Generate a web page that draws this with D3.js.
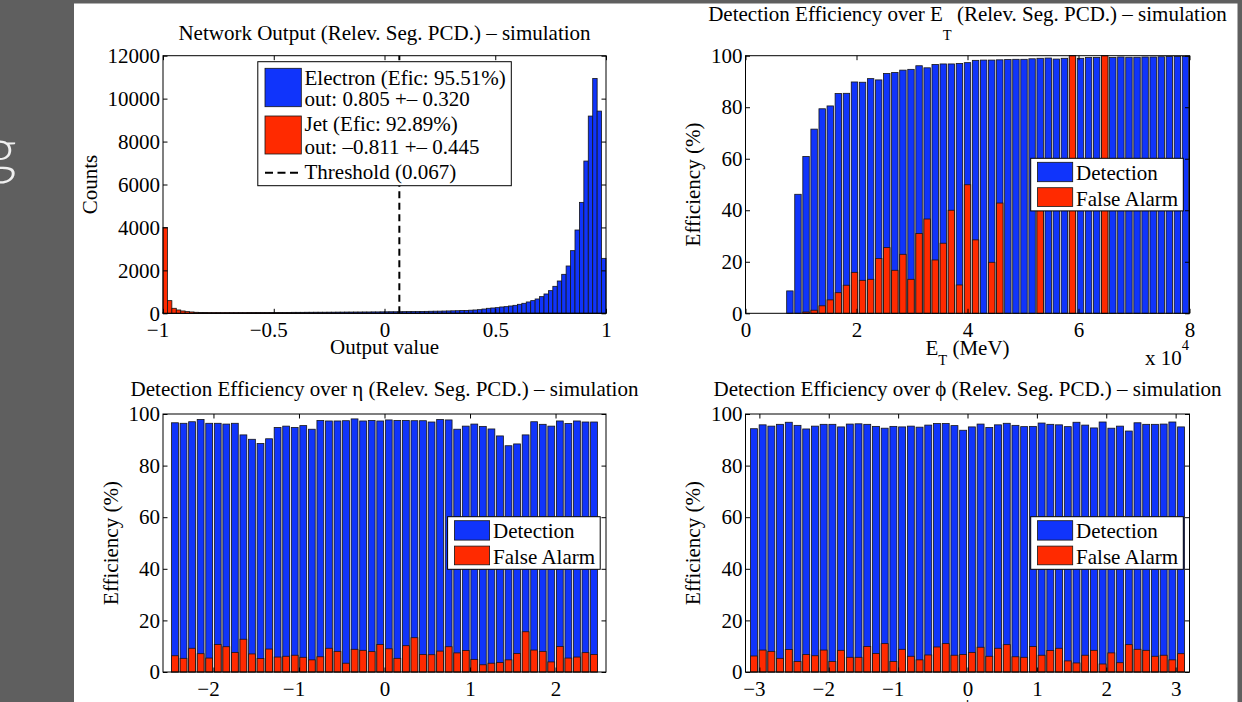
<!DOCTYPE html>
<html>
<head>
<meta charset="utf-8">
<script src="https://cdn.jsdelivr.net/npm/d3@7"></script>
<style>
  body { margin: 0; background: #5f5f5f; }
  svg { display: block; }
</style>
</head>
<body>
<div id="chart"></div>
<script>
// page size and styles
var width = 1242
var height = 702
var serif = "'Liberation Serif', 'Times New Roman', serif"
var fontSize = 21
var blue = "#1034fb"
var red = "#ff2a00"

// ---- data ----
// network output histogram, 100 bins over [-1, 1]
var outRange = [-1, 1]
var electronCounts = [40, 20, 15, 15, 15, 18, 20, 20, 22, 22,
  25, 25, 28, 28, 30, 30, 30, 32, 32, 35,
  35, 35, 38, 38, 40, 40, 40, 42, 42, 45,
  45, 45, 48, 48, 50, 50, 50, 52, 52, 55,
  55, 58, 58, 60, 60, 62, 62, 65, 65, 68,
  70, 72, 72, 75, 78, 80, 82, 85, 88, 90,
  95, 98, 100, 105, 110, 115, 120, 128, 135, 145,
  155, 170, 200, 233, 248, 264, 295, 310, 341, 372,
  419, 466, 528, 590, 667, 776, 900, 1055, 1257, 1505,
  1816, 2204, 2918, 3880, 5168, 7093, 9188, 10940, 9420, 2560]
var jetCounts = [4000, 590, 233, 155, 109, 78, 62, 47, 40, 35,
  30, 28, 26, 25, 24, 23, 22, 21, 20, 20,
  19, 18, 18, 17, 17, 16, 16, 15, 15, 15,
  14, 14, 14, 13, 13, 13, 12, 12, 12, 12,
  11, 11, 11, 11, 10, 10, 10, 10, 10, 10,
  9, 9, 9, 9, 9, 8, 8, 8, 8, 8,
  7, 7, 7, 7, 7, 6, 6, 6, 6, 6,
  5, 5, 5, 5, 5, 5, 4, 4, 4, 4,
  4, 4, 4, 3, 3, 3, 3, 3, 3, 3,
  3, 3, 3, 2, 2, 2, 2, 2, 2, 2]
var threshold = 0.067
var outLegend = ["Electron (Efic: 95.51%)", "out: 0.805 +\u2013 0.320",
                 "Jet (Efic: 92.89%)", "out: \u20130.811 +\u2013 0.445",
                 "Threshold (0.067)"]

// efficiency over E_T, 55 bins over [0, 8] x 10^4 MeV
var etRange = [0, 8]
var etDetection = [0, 0, 0, 0, 0, 8.7, 46.2, 60.9, 71.5, 79.4,
  80.5, 85.3, 85.4, 89.8, 89.7, 91.1, 90.6, 93.1, 93.5, 94.4,
  94.7, 96.1, 95.3, 96.6, 96.8, 96.8, 97.0, 97.3, 98.2, 98.3,
  98.3, 98.4, 98.5, 98.6, 98.6, 98.8, 99.0, 99.1, 98.7, 99.0,
  99.2, 99.0, 99.3, 99.3, 99.4, 99.3, 99.5, 99.4, 99.4, 99.5,
  99.5, 99.6, 99.7, 99.7, 99.7]
var etFalseAlarm = [0, 0, 0, 0, 0, 0, 0, 0.5, 1.2, 2.9,
  5.2, 8.0, 10.9, 15.9, 12.8, 13.2, 21.3, 25.5, 16.7, 22.9,
  13.2, 31.0, 36.6, 20.7, 27.2, 40.0, 11.0, 49.9, 28.5, 0,
  19.8, 42.8, 0, 0, 0, 0, 50, 0, 0, 0,
  100, 0, 0, 0, 100, 0, 0, 0, 0, 0,
  0, 0, 0, 0, 0]

// efficiency over eta, 50 bins over [-2.5, 2.5]
var etaRange = [-2.5, 2.5]
var etaDetection = [96.6, 96.4, 97.0, 97.9, 96.4, 96.4, 96.1, 96.4, 91.9, 90.2,
  88.6, 90.4, 94.8, 95.3, 94.8, 95.5, 94.1, 97.5, 97.3, 97.3,
  97.4, 98.1, 97.3, 97.5, 97.3, 97.7, 97.5, 97.5, 97.4, 97.4,
  96.9, 97.9, 97.7, 94.1, 95.3, 96.1, 95.2, 94.2, 91.5, 87.7,
  88.4, 91.9, 97.0, 96.0, 95.3, 97.3, 96.3, 97.3, 96.9, 96.9]
var etaFalseAlarm = [6.3, 5.3, 9.2, 7.1, 5.4, 10.7, 9.8, 7.6, 12.7, 7.0,
  5.2, 8.9, 5.8, 6.1, 6.5, 5.7, 4.7, 5.9, 9.2, 8.0,
  3.4, 8.8, 8.4, 7.9, 10.7, 9.0, 5.3, 10.2, 13.3, 6.8,
  6.7, 8.1, 9.8, 7.4, 8.3, 4.9, 2.8, 3.4, 3.7, 4.7,
  7.2, 15.6, 8.5, 8.0, 3.9, 9.9, 5.4, 5.8, 7.5, 6.8]

// efficiency over phi, 50 bins over [-pi, pi]
var phiRange = [-Math.PI, Math.PI]
var phiDetection = [94.3, 95.8, 95.3, 96.0, 96.8, 95.6, 94.2, 95.3, 96.0, 96.0,
  95.0, 96.1, 96.2, 96.0, 95.2, 94.5, 95.2, 95.0, 95.3, 94.9,
  95.7, 96.3, 96.3, 95.5, 93.7, 95.0, 96.1, 94.8, 95.8, 96.4,
  95.6, 95.1, 95.2, 96.5, 96.0, 95.8, 95.1, 96.8, 95.7, 94.6,
  96.9, 94.5, 95.3, 93.4, 96.6, 96.0, 96.0, 96.1, 96.9, 95.0]
var phiFalseAlarm = [6.2, 8.5, 8.0, 5.3, 8.7, 4.1, 6.8, 6.3, 8.5, 4.1,
  8.4, 5.7, 5.7, 9.9, 7.2, 11.0, 4.1, 8.8, 6.1, 4.7,
  6.6, 9.7, 11.0, 6.5, 6.8, 7.6, 9.6, 6.1, 9.2, 10.6,
  5.9, 5.7, 9.9, 6.5, 8.3, 9.2, 4.3, 3.5, 6.5, 8.4,
  3.1, 7.4, 3.6, 10.6, 8.8, 8.4, 6.1, 6.5, 4.7, 7.1]

// tick values
var outTicks = [-1, -0.5, 0, 0.5, 1]
var countTicks = [0, 2000, 4000, 6000, 8000, 10000, 12000]
var effTicks = [0, 20, 40, 60, 80, 100]
var etTicks = [0, 2, 4, 6, 8]
var etaTicks = [-2, -1, 0, 1, 2]
var phiTicks = [-3, -2, -1, 0, 1, 2, 3]

// ---- page ----
var svg = d3.select("#chart")
  .append("svg")
  .attr("width", width)
  .attr("height", height)

svg.append("rect").attr("width", width).attr("height", height).attr("fill", "#5f5f5f")
// tail of the slide text on the left
svg.append("text")
  .attr("x", 17).attr("y", 172)
  .attr("text-anchor", "end")
  .attr("font-family", "Lato, 'DejaVu Sans', sans-serif")
  .attr("font-weight", 300)
  .attr("font-size", 64)
  .attr("fill", "#efefef")
  .text("g")
svg.append("rect")
  .attr("x", 74).attr("y", 3.5)
  .attr("width", 1163.5).attr("height", height)
  .attr("fill", "#fff")

// axes boxes
function make_panel(box, xDomain, yDomain) {
  return {
    box: box,
    x: d3.scaleLinear().domain(xDomain).range([box.left, box.right]),
    y: d3.scaleLinear().domain(yDomain).range([box.bottom, box.top]),
    g: svg.append("g")
  }
}

var p1 = make_panel({left: 163, right: 606, top: 55.7, bottom: 313.3}, [-1, 1], [0, 12000])
var p2 = make_panel({left: 745.5, right: 1189.5, top: 55.7, bottom: 313.3}, [0, 8], [0, 100])
var p3 = make_panel({left: 163, right: 606, top: 414, bottom: 672}, [-2.59, 2.59], [0, 100])
var p4 = make_panel({left: 745.5, right: 1189.5, top: 414, bottom: 672}, [-3.2, 3.2], [0, 100])

function add_text(g, x, y, str, anchor, rotate) {
  var t = g.append("text")
    .attr("x", x).attr("y", y)
    .attr("font-family", serif)
    .attr("font-size", fontSize)
    .attr("fill", "#000")
    .attr("text-anchor", anchor || "start")
    .text(str)
  if (rotate) t.attr("transform", "rotate(-90," + x + "," + y + ")")
  return t
}

// bars centred in equal bins across a range
function draw_bars(p, range, values, fill, widthRatio) {
  var step = (range[1] - range[0]) / values.length
  var w = step * widthRatio
  p.g.append("g")
    .selectAll("rect")
    .data(values)
    .join("rect")
      .attr("x", function(d, i) { return p.x(range[0] + step * (i + 0.5) - w / 2) })
      .attr("y", function(d) { return p.y(d) })
      .attr("width", function(d, i) { return p.x(range[0] + step * (i + 0.5) + w / 2) - p.x(range[0] + step * (i + 0.5) - w / 2) })
      .attr("height", function(d) { return p.y(0) - p.y(d) })
      .attr("fill", fill)
      .attr("stroke", "#161616")
      .attr("stroke-width", 0.8)
}

function minus_fmt(d) { return String(d).replace("-", "\u2212") }

function style_axis(a) {
  a.select(".domain").remove()
  a.attr("font-family", serif).attr("font-size", fontSize)
  a.selectAll("text").attr("fill", "#000")
  a.selectAll("line").attr("stroke", "#000")
}

function draw_frame(p, xTicks, yTicks, yFmt) {
  var b = p.box
  var tl = -4.5
  p.g.append("g").attr("transform", "translate(0," + b.bottom + ")")
    .call(d3.axisBottom(p.x).tickValues(xTicks).tickSizeInner(tl).tickSizeOuter(0).tickPadding(9).tickFormat(minus_fmt))
    .call(style_axis)
    .selectAll("text").attr("dx", function(d) { return d < 0 ? -5.5 : 0 })
  p.g.append("g").attr("transform", "translate(0," + b.top + ")")
    .call(d3.axisTop(p.x).tickValues(xTicks).tickSizeInner(tl).tickSizeOuter(0).tickFormat(""))
    .call(style_axis)
  p.g.append("g").attr("transform", "translate(" + b.left + ",0)")
    .call(d3.axisLeft(p.y).tickValues(yTicks).tickSizeInner(tl).tickSizeOuter(0).tickPadding(3).tickFormat(yFmt))
    .call(style_axis)
  p.g.append("g").attr("transform", "translate(" + b.right + ",0)")
    .call(d3.axisRight(p.y).tickValues(yTicks).tickSizeInner(tl).tickSizeOuter(0).tickFormat(""))
    .call(style_axis)
  p.g.append("rect")
    .attr("x", b.left).attr("y", b.top)
    .attr("width", b.right - b.left).attr("height", b.bottom - b.top)
    .attr("fill", "none").attr("stroke", "#000").attr("stroke-width", 1)
}

// two-entry legend used by the efficiency plots
function draw_eff_legend(p, x, y) {
  var g = p.g.append("g").attr("transform", "translate(" + x + "," + y + ")")
  g.append("rect").attr("width", 152.6).attr("height", 52.6)
    .attr("fill", "#fff").attr("stroke", "#000")
  g.append("rect").attr("x", 6.8).attr("y", 4).attr("width", 35.2).attr("height", 19.4)
    .attr("fill", blue).attr("stroke", "#161616").attr("stroke-width", 0.8)
  g.append("rect").attr("x", 6.8).attr("y", 29.4).attr("width", 35.2).attr("height", 18.7)
    .attr("fill", red).attr("stroke", "#161616").attr("stroke-width", 0.8)
  add_text(g, 45.4, 21.6, "Detection")
  add_text(g, 45.4, 47.3, "False Alarm")
}

// ---- panel 1: network output ----
draw_bars(p1, outRange, electronCounts, blue, 1)
draw_bars(p1, outRange, jetCounts, red, 1)
p1.g.append("line")
  .attr("x1", p1.x(threshold)).attr("x2", p1.x(threshold))
  .attr("y1", p1.y(0)).attr("y2", p1.y(12000))
  .attr("stroke", "#000").attr("stroke-width", 2)
  .attr("stroke-dasharray", "7,4.5")
draw_frame(p1, outTicks, countTicks, d3.format("d"))

var lg = p1.g.append("g").attr("transform", "translate(257.8,61.7)")
lg.append("rect").attr("width", 253.5).attr("height", 124)
  .attr("fill", "#fff").attr("stroke", "#000")
lg.append("rect").attr("x", 7.2).attr("y", 6.6).attr("width", 36.3).attr("height", 38.4)
  .attr("fill", blue).attr("stroke", "#161616").attr("stroke-width", 0.8)
lg.append("rect").attr("x", 7.2).attr("y", 54.3).attr("width", 36.3).attr("height", 38)
  .attr("fill", red).attr("stroke", "#161616").attr("stroke-width", 0.8)
lg.append("line").attr("x1", 7.2).attr("x2", 43.5).attr("y1", 111).attr("y2", 111)
  .attr("stroke", "#000").attr("stroke-width", 2).attr("stroke-dasharray", "8,4.5")
var outBaselines = [23.2, 44.8, 69.5, 92.3, 117.3]
outLegend.forEach(function(s, i) { add_text(lg, 46.7, outBaselines[i], s) })

add_text(p1.g, 384.5, 39.5, "Network Output (Relev. Seg. PCD.) \u2013 simulation", "middle")
add_text(p1.g, 384.5, 354, "Output value", "middle")
add_text(p1.g, 96.5, 184.5, "Counts", "middle", true)

// ---- panel 2: efficiency over E_T ----
draw_bars(p2, etRange, etDetection, blue, 0.8)
draw_bars(p2, etRange, etFalseAlarm, red, 0.8)
draw_frame(p2, etTicks, effTicks, d3.format("d"))
draw_eff_legend(p2, 1030.7, 158.3)

var t2 = add_text(p2.g, 967.5, 20.7, "Detection Efficiency over E", "middle")
t2.append("tspan").attr("font-size", 14.5).attr("dy", 19).text("T")
t2.append("tspan").attr("font-size", fontSize).attr("dy", -19).text(" (Relev. Seg. PCD.) \u2013 simulation")
var xl2 = add_text(p2.g, 967.5, 354.7, "E", "middle")
xl2.append("tspan").attr("font-size", 14.5).attr("dy", 10).text("T")
xl2.append("tspan").attr("font-size", fontSize).attr("dy", -10).text(" (MeV)")
add_text(p2.g, 699.5, 184.5, "Efficiency (%)", "middle", true)
var xm = add_text(p2.g, 1145, 364.7, "x 10")
xm.append("tspan").attr("font-size", 14.5).attr("dy", -15).text("4")

// ---- panel 3: efficiency over eta ----
draw_bars(p3, etaRange, etaDetection, blue, 0.8)
draw_bars(p3, etaRange, etaFalseAlarm, red, 0.8)
draw_frame(p3, etaTicks, effTicks, d3.format("d"))
draw_eff_legend(p3, 447.6, 516.7)
add_text(p3.g, 384.5, 395.5, "Detection Efficiency over \u03b7 (Relev. Seg. PCD.) \u2013 simulation", "middle")
add_text(p3.g, 117.5, 543, "Efficiency (%)", "middle", true)
add_text(p3.g, 384.5, 715, "\u03b7", "middle")

// ---- panel 4: efficiency over phi ----
draw_bars(p4, phiRange, phiDetection, blue, 0.8)
draw_bars(p4, phiRange, phiFalseAlarm, red, 0.8)
draw_frame(p4, phiTicks, effTicks, d3.format("d"))
draw_eff_legend(p4, 1030.7, 516.7)
add_text(p4.g, 967.5, 395.5, "Detection Efficiency over \u03d5 (Relev. Seg. PCD.) \u2013 simulation", "middle")
add_text(p4.g, 699.5, 543, "Efficiency (%)", "middle", true)
add_text(p4.g, 967.5, 715, "\u03d5", "middle")
</script>
</body>
</html>
